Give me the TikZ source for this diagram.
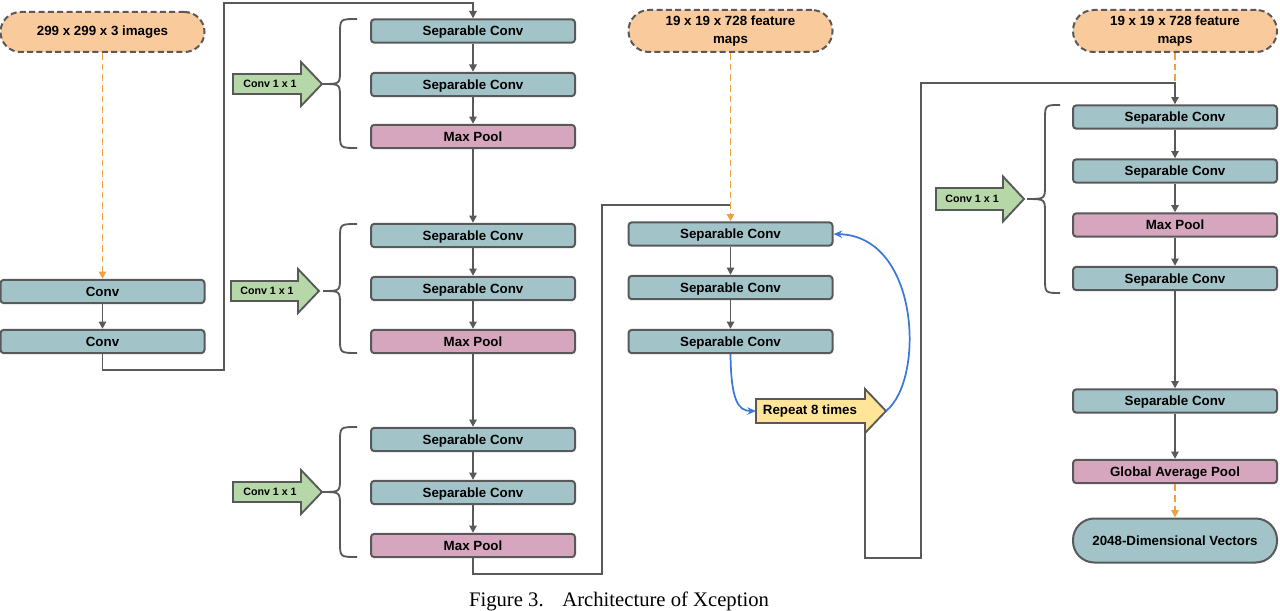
\documentclass[tikz,border=0pt]{standalone}
\usepackage{fontspec}
\setmainfont{Liberation Sans}
\newfontfamily\capfont{Liberation Serif}
\usetikzlibrary{arrows.meta,calc}

\definecolor{edge}{HTML}{595959}
\definecolor{tealbox}{HTML}{A2C4C9}
\definecolor{pinkbox}{HTML}{D5A6BD}
\definecolor{peach}{HTML}{F9CB9C}
\definecolor{mint}{HTML}{B6D7A8}
\definecolor{butter}{HTML}{FFE599}
\definecolor{loopblue}{HTML}{3C78D8}
\definecolor{feedorange}{HTML}{F0A040}

\tikzset{
  lbl/.style={font=\bfseries\fontsize{10}{13}\selectfont, text=black},
  block/.style={lbl, draw=edge, line width=1.5pt, rounded corners=2.5pt,
    minimum width=153pt, minimum height=17.5pt, inner sep=0pt,
    text height=7.8pt, text depth=0.8pt},
  sepbox/.style={block, fill=tealbox},
  poolbox/.style={block, fill=pinkbox},
  pill/.style={lbl, draw=edge, line width=1.5pt, fill=peach, dashed,
    dash pattern=on 4.5pt off 2.5pt, rounded corners=15.5pt,
    minimum width=153pt, minimum height=31.5pt, inner sep=0pt, align=center},
  outpill/.style={lbl, draw=edge, line width=1.5pt, fill=tealbox,
    rounded corners=16pt, minimum width=153pt, minimum height=33pt, inner sep=0pt},
  flow/.style={draw=edge, line width=1.4pt, -{Triangle[length=5.5pt,width=5.5pt]}},
  link/.style={draw=edge, line width=1.4pt},
  feed/.style={draw=feedorange, line width=1.4pt, dash pattern=on 5pt off 3pt,
    -{Triangle[length=5.5pt,width=5.5pt]}},
  feedplain/.style={draw=feedorange, line width=1.4pt, dash pattern=on 5pt off 3pt},
  loop/.style={draw=loopblue, line width=1.3pt, -{Stealth[length=6.5pt,width=5.5pt]}},
  bracepath/.style={draw=edge, line width=1.4pt},
  fatarrow/.style={draw=edge, line width=1.4pt, line join=miter},
  smalllbl/.style={font=\bfseries\fontsize{8}{10}\selectfont, text=black, inner sep=0pt}
}

% curly brace: end x, spine x, tip x, top y, bottom y, tip y
\newcommand{\groupbrace}[6]{%
  \draw[bracepath] (#1,#4) .. controls (#2,#4) .. (#2,#4+15) -- (#2,#6-14)
    .. controls (#2,#6) .. (#3,#6) .. controls (#2,#6) .. (#2,#6+14)
    -- (#2,#5-15) .. controls (#2,#5) .. (#1,#5);}

% block arrow: tail x, head start x, tip x, centre y, body half height, head half height, fill
\newcommand{\blockarrow}[7]{%
  \draw[fatarrow, fill=#7] (#1,#4-#5) -- (#2,#4-#5) -- (#2,#4-#6) -- (#3,#4)
    -- (#2,#4+#6) -- (#2,#4+#5) -- (#1,#4+#5) -- cycle;}

\begin{document}
\begin{tikzpicture}[x=0.75pt,y=-0.75pt]
\useasboundingbox (0,0) rectangle (1280,610);

% ---- stem ----
\node[pill, minimum height=30pt, rounded corners=15pt] (img) at (102.5,32) {299 x 299 x 3 images};
\node[sepbox] (cv1) at (102.5,291.5) {Conv};
\node[sepbox] (cv2) at (102.5,341.5) {Conv};
\draw[feed] (img.south) -- (cv1.north);
\draw[flow] (cv1) -- (cv2);

% ---- entry flow ----
\node[sepbox]  (s11) at (473,31)    {Separable Conv};
\node[sepbox]  (s12) at (473,84.5)  {Separable Conv};
\node[poolbox] (m13) at (473,136.5) {Max Pool};
\node[sepbox]  (s14) at (473,235.5) {Separable Conv};
\node[sepbox]  (s15) at (473,288.5) {Separable Conv};
\node[poolbox] (m16) at (473,341.5) {Max Pool};
\node[sepbox]  (s17) at (473,439.5) {Separable Conv};
\node[sepbox]  (s18) at (473,492.5) {Separable Conv};
\node[poolbox] (m19) at (473,545.5) {Max Pool};

\coordinate (j1) at (224,370);
\coordinate (j2) at (473,3);
\draw[flow] (cv2.south) |- (j1) |- (j2) -- (s11.north);
\draw[flow] (s11) -- (s12);
\draw[flow] (s12) -- (m13);
\draw[flow] (m13) -- (s14);
\draw[flow] (s14) -- (s15);
\draw[flow] (s15) -- (m16);
\draw[flow] (m16) -- (s17);
\draw[flow] (s17) -- (s18);
\draw[flow] (s18) -- (m19);

\groupbrace{357}{340}{323}{19}{148}{84}
\groupbrace{357}{340}{323}{224}{353}{291}
\groupbrace{357}{340}{322}{427}{557}{492}

\blockarrow{233}{301}{322}{84}{10}{22}{mint}
\node[smalllbl] (k1) at (270,84) {Conv 1 x 1};
\blockarrow{231}{298}{319}{291}{10}{22}{mint}
\node[smalllbl] (k2) at (267,291) {Conv 1 x 1};
\blockarrow{233}{301}{322}{492}{10}{22}{mint}
\node[smalllbl] (k3) at (270,492) {Conv 1 x 1};

% ---- middle flow ----
\node[pill] (fm2) at (730.5,31) {19 x 19 x 728 feature\\maps};
\node[sepbox] (s21) at (730.5,234)   {Separable Conv};
\node[sepbox] (s22) at (730.5,287.5) {Separable Conv};
\node[sepbox] (s23) at (730.5,341.5) {Separable Conv};

\coordinate (j3) at (602,574);
\coordinate (j4) at (730.5,205);
\draw[link] (m19.south) |- (j3) |- (j4);
\draw[feed] (fm2.south) -- (s21.north);
\draw[flow] (s21) -- (s22);
\draw[flow] (s22) -- (s23);

\blockarrow{756}{865}{886}{411}{12}{22}{butter}
\node[lbl, inner sep=0pt] (rep) at (810,411) {Repeat 8 times};
\coordinate (repTail) at (756,411);
\coordinate (repTip) at (886,411);
\coordinate (repFoot) at (865,433);
\draw[loop] (s23.south) .. controls (731,400) and (738,411) .. (repTail);
\draw[loop] (repTip) .. controls (925,380) and (920,236) .. (s21.east);

% ---- exit flow ----
\node[pill] (fm3) at (1175,31) {19 x 19 x 728 feature\\maps};
\node[sepbox]  (s31) at (1175,117)   {Separable Conv};
\node[sepbox]  (s32) at (1175,171)   {Separable Conv};
\node[poolbox] (m33) at (1175,225)   {Max Pool};
\node[sepbox]  (s34) at (1175,278.5) {Separable Conv};
\node[sepbox]  (s35) at (1175,401)   {Separable Conv};
\node[poolbox] (gap) at (1175,471.5) {Global Average Pool};
\node[outpill] (vec) at (1175,540.5) {2048-Dimensional Vectors};

\coordinate (j5) at (921,558);
\coordinate (j6) at (1175,83);
\draw[feedplain] (fm3.south) -- (j6);
\draw[flow] (repFoot) |- (j5) |- (j6) -- (s31.north);
\draw[flow] (s31) -- (s32);
\draw[flow] (s32) -- (m33);
\draw[flow] (m33) -- (s34);
\draw[flow] (s34) -- (s35);
\draw[flow] (s35) -- (gap);
\draw[feed] (gap.south) -- (vec.north);

\groupbrace{1060}{1045}{1027}{105}{293}{199}
\blockarrow{936}{1003}{1024}{199}{11}{22.5}{mint}
\node[smalllbl] (k4) at (972,199) {Conv 1 x 1};

% ---- caption ----
\node[font=\capfont\fontsize{15.5}{18}\selectfont, anchor=base, inner sep=0pt] (cap)
  at (619,606) {Figure 3.\hspace{14pt}Architecture of Xception};
\end{tikzpicture}
\end{document}
